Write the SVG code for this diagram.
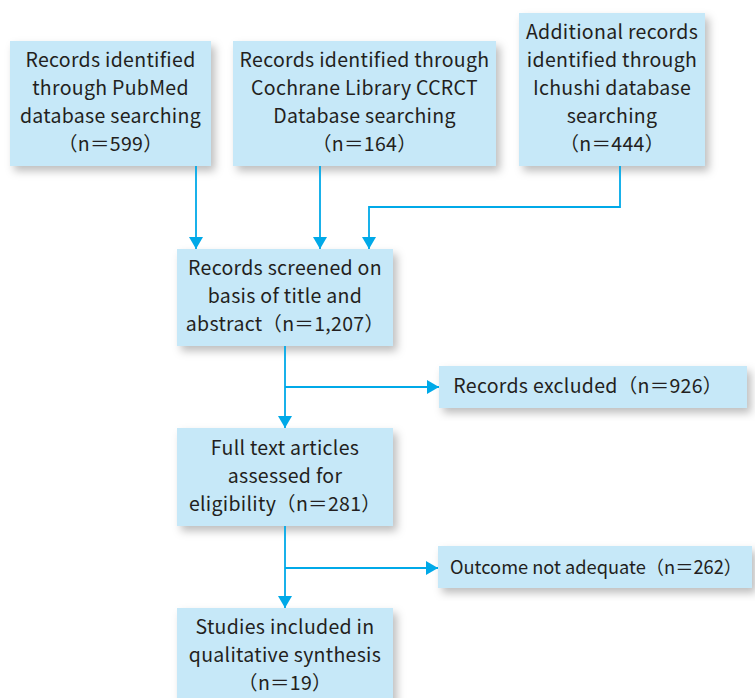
<svg xmlns="http://www.w3.org/2000/svg" width="755" height="698" viewBox="0 0 755 698">
<defs>
<style>
.box{fill:#C6E8F8;filter:url(#sh)}
.t{font-family:"Noto Sans CJK JP","Noto Sans",sans-serif;font-size:19.5px;letter-spacing:0.3px;fill:#231F20;text-anchor:middle}
.c{fill:none;stroke:#00A9E8;stroke-width:1.8}
</style>
<filter id="sh" x="-10%" y="-10%" width="130%" height="140%">
<feDropShadow dx="4" dy="5" stdDeviation="4" flood-color="#000" flood-opacity="0.26"/>
</filter>
<marker id="ah" viewBox="0 0 12 14" refX="12" refY="7" markerWidth="12" markerHeight="14" markerUnits="userSpaceOnUse" orient="auto">
<path d="M0,0 L12,7 L0,14 z" fill="#00A9E8"/>
</marker>
</defs>
<rect width="755" height="698" fill="#fff"/>
<g id="n_pubmed">
<rect class="box" x="10" y="41" width="201" height="125"/>
<text class="t" x="110.5" y="67">Records identified</text>
<text class="t" x="110.5" y="95">through PubMed</text>
<text class="t" x="110.5" y="123">database searching</text>
<text class="t" x="110.5" y="151">（n＝599）</text>
</g>
<g id="n_cochrane">
<rect class="box" x="233" y="41" width="263" height="125"/>
<text class="t" x="364.5" y="67">Records identified through</text>
<text class="t" x="364.5" y="95">Cochrane Library CCRCT</text>
<text class="t" x="364.5" y="123">Database searching</text>
<text class="t" x="364.5" y="151">（n＝164）</text>
</g>
<g id="n_ichushi">
<rect class="box" x="519" y="13" width="186" height="153"/>
<text class="t" x="612" y="39">Additional records</text>
<text class="t" x="612" y="67">identified through</text>
<text class="t" x="612" y="95">Ichushi database</text>
<text class="t" x="612" y="123">searching</text>
<text class="t" x="612" y="151">（n＝444）</text>
</g>
<g id="n_screened">
<rect class="box" x="177" y="249" width="216" height="97"/>
<text class="t" x="285" y="275">Records screened on</text>
<text class="t" x="285" y="303">basis of title and</text>
<text class="t" x="285" y="331">abstract（n＝1,207）</text>
</g>
<g id="n_excluded">
<rect class="box" x="439" y="366" width="308" height="42"/>
<text class="t" x="588" y="393">Records excluded（n＝926）</text>
</g>
<g id="n_fulltext">
<rect class="box" x="177" y="428" width="216" height="98"/>
<text class="t" x="285" y="455">Full text articles</text>
<text class="t" x="285" y="483">assessed for</text>
<text class="t" x="285" y="511">eligibility（n＝281）</text>
</g>
<g id="n_outcome">
<rect class="box" x="438" y="546" width="314" height="42"/>
<text class="t" x="596" y="574" style="letter-spacing:0;font-size:18.5px" textLength="292" lengthAdjust="spacingAndGlyphs">Outcome not adequate（n＝262）</text>
</g>
<g id="n_studies">
<rect class="box" x="177" y="608" width="216" height="100"/>
<text class="t" x="285" y="634">Studies included in</text>
<text class="t" x="285" y="662">qualitative synthesis</text>
<text class="t" x="285" y="690">（n＝19）</text>
</g>
<g id="connectors">
<path class="c" d="M196,166 V249" marker-end="url(#ah)"/>
<path class="c" d="M320,166 V249" marker-end="url(#ah)"/>
<path class="c" d="M620,166 V207 H369 V249" marker-end="url(#ah)"/>
<path class="c" d="M285,346 V428" marker-end="url(#ah)"/>
<path class="c" d="M285,387 H439" marker-end="url(#ah)"/>
<path class="c" d="M285,526 V608" marker-end="url(#ah)"/>
<path class="c" d="M285,568 H438" marker-end="url(#ah)"/>
</g>
</svg>
